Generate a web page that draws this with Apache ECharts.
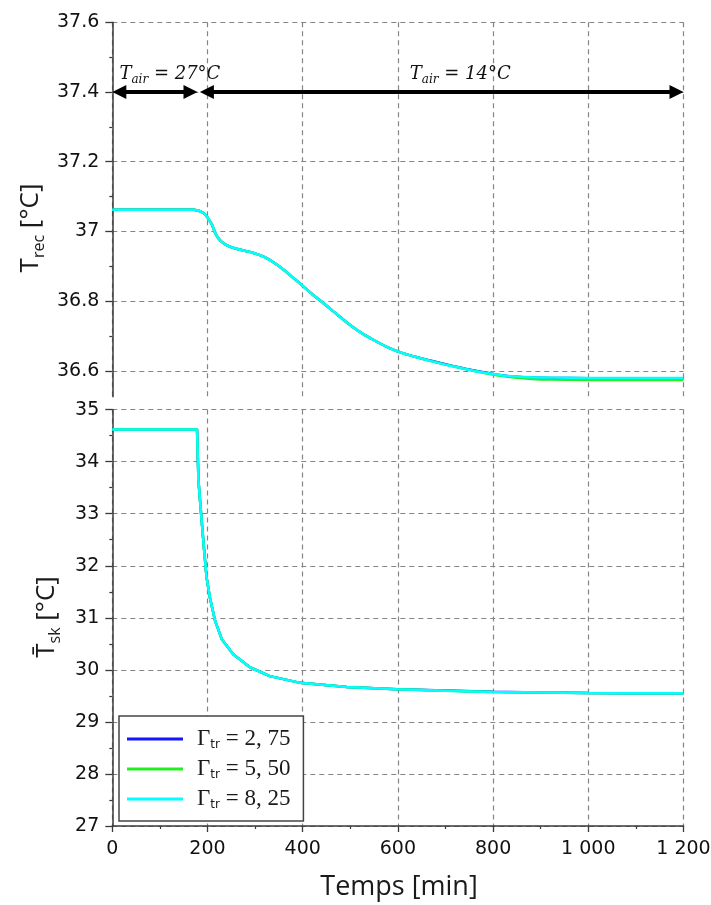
<!DOCTYPE html>
<html><head><meta charset="utf-8">
<script src="https://cdn.jsdelivr.net/npm/echarts@6/dist/echarts.min.js"></script>
<style>html,body{margin:0;padding:0;background:#fff}#c{width:711px;height:905px}</style>
</head><body><div id="c"></div>
<script>
// ---------- data ----------
const seriesNames = ['Γtr = 2,75', 'Γtr = 5,50', 'Γtr = 8,25'];
const legendValues = ['2, 75', '5, 50', '8, 25'];
const seriesColors = ['#1414ff', '#22ee22', '#00ffff'];

const recTime  = [0, 100, 170, 180, 186, 192, 198, 204, 210, 216, 222, 230, 240, 252, 265, 280, 295, 310, 325, 340, 360, 380, 400, 420, 443, 465, 490, 520, 550, 580, 610, 640, 670, 700, 730, 760, 790, 820, 850, 880, 920, 1000, 1100, 1200];
const recBlue  = [37.062, 37.062, 37.062, 37.060, 37.057, 37.052, 37.044, 37.032, 37.018, 36.996, 36.982, 36.970, 36.961, 36.954, 36.949, 36.944, 36.939, 36.932, 36.923, 36.910, 36.890, 36.867, 36.844, 36.820, 36.795, 36.770, 36.742, 36.712, 36.688, 36.667, 36.651, 36.639, 36.629, 36.619, 36.610, 36.601, 36.594, 36.587, 36.583, 36.581, 36.580, 36.579, 36.579, 36.579];
const recGreen = [37.062, 37.062, 37.062, 37.060, 37.057, 37.052, 37.044, 37.032, 37.018, 36.996, 36.982, 36.970, 36.961, 36.954, 36.949, 36.944, 36.939, 36.932, 36.923, 36.910, 36.890, 36.867, 36.844, 36.820, 36.795, 36.770, 36.742, 36.712, 36.688, 36.667, 36.651, 36.639, 36.628, 36.618, 36.609, 36.600, 36.592, 36.585, 36.580, 36.577, 36.575, 36.574, 36.574, 36.574];
const recCyan  = [37.062, 37.062, 37.062, 37.060, 37.057, 37.052, 37.044, 37.032, 37.018, 36.996, 36.982, 36.970, 36.961, 36.954, 36.949, 36.944, 36.939, 36.932, 36.923, 36.910, 36.890, 36.867, 36.844, 36.820, 36.795, 36.770, 36.742, 36.712, 36.688, 36.667, 36.651, 36.639, 36.628, 36.618, 36.609, 36.600, 36.593, 36.587, 36.584, 36.582, 36.581, 36.580, 36.580, 36.580];

const skTime  = [0, 100, 178, 179, 181, 186, 193, 198, 205, 216, 230, 254, 289, 331, 395, 493, 598, 700, 800, 900, 1000, 1100, 1200];
const skBlue  = [34.62, 34.62, 34.62, 34.30, 33.64, 33.06, 32.29, 31.78, 31.39, 30.94, 30.59, 30.30, 30.05, 29.88, 29.75, 29.67, 29.626, 29.602, 29.577, 29.565, 29.555, 29.55, 29.55];
const skGreen = [34.62, 34.62, 34.62, 34.30, 33.64, 33.06, 32.29, 31.78, 31.39, 30.94, 30.59, 30.30, 30.05, 29.88, 29.75, 29.67, 29.625, 29.60, 29.575, 29.565, 29.555, 29.55, 29.55];
const skCyan  = [34.62, 34.62, 34.62, 34.30, 33.64, 33.06, 32.29, 31.78, 31.39, 30.94, 30.59, 30.30, 30.05, 29.88, 29.75, 29.67, 29.625, 29.60, 29.575, 29.565, 29.555, 29.55, 29.55];

const xTickValues = [0, 200, 400, 600, 800, 1000, 1200];
const xTickLabels = ['0', '200', '400', '600', '800', '1 000', '1 200'];
const recTickValues = [36.6, 36.8, 37, 37.2, 37.4, 37.6];
const recTickLabels = ['36.6', '36.8', '37', '37.2', '37.4', '37.6'];
const recMinorTickValues = [36.7, 36.9, 37.1, 37.3, 37.5];
const skTickValues = [27, 28, 29, 30, 31, 32, 33, 34, 35];
const skTickLabels = ['27', '28', '29', '30', '31', '32', '33', '34', '35'];

const airPhaseStart = [0, 184];
const airPhaseEnd = [179, 1200];
const airPhaseTemp = ['27', '14'];
const airArrowLevel = 37.4;

// ---------- layout / style ----------
const G0 = {left: 112.3, width: 571.2, top: 22.3, height: 374.4};
const G1 = {left: 112.3, width: 571.2, top: 409.6, height: 416.4};
const recMin = 36.526, recMax = 37.6;
const axisColor = '#3a3a3a';
const gridLine = {show: true, lineStyle: {color: '#858585', width: 1.2, type: [5, 4]}};
const tickFont = {fontFamily: 'DejaVu Sans', fontSize: 19, color: '#111'};

function lookup(vals, labels) {
  return v => { for (let i = 0; i < vals.length; i++) if (Math.abs(vals[i] - v) < 1e-6) return labels[i]; return ''; };
}
const pairs = (xs, ys) => xs.map((x, i) => [x, ys[i]]);

const chart = echarts.init(document.getElementById('c'), null, {renderer: 'canvas'});

const arrowInset = 7 * 1200 / G0.width; // keep arrow tips on the phase bounds

const series = [];
const recSets = [recBlue, recGreen, recCyan];
const skSets = [skBlue, skGreen, skCyan];
for (let i = 0; i < 3; i++) {
  series.push({
    name: seriesNames[i], type: 'line', xAxisIndex: 0, yAxisIndex: 0,
    data: pairs(recTime, recSets[i]), symbol: 'none', showSymbol: false,
    smooth: 0.2,
    lineStyle: {color: seriesColors[i], width: 2.5}, itemStyle: {color: seriesColors[i]},
    z: 3 + i, silent: true,
    markLine: i === 2 ? {
      silent: true, animation: false,
      symbol: ['triangle', 'triangle'], symbolSize: 14,
      lineStyle: {color: '#000', width: 4, type: 'solid'},
      itemStyle: {color: '#000'},
      label: {show: false}, emphasis: {disabled: true},
      data: airPhaseStart.map((s, k) => [
        {coord: [s + arrowInset, airArrowLevel]},
        {coord: [airPhaseEnd[k] - arrowInset, airArrowLevel]}
      ])
    } : undefined
  });
}
for (let i = 0; i < 3; i++) {
  series.push({
    name: seriesNames[i], type: 'line', xAxisIndex: 1, yAxisIndex: 2,
    data: pairs(skTime, skSets[i]), symbol: 'none', showSymbol: false,
    lineStyle: {color: seriesColors[i], width: 2.5}, itemStyle: {color: seriesColors[i]},
    z: 3 + i, silent: true
  });
}

chart.setOption({
  animation: false,
  backgroundColor: '#fff',
  grid: [
    Object.assign({outerBoundsMode: 'none', containLabel: false}, G0),
    Object.assign({outerBoundsMode: 'none', containLabel: false}, G1)
  ],
  xAxis: [
    {type: 'value', gridIndex: 0, min: 0, max: 1200, interval: 200,
     axisLine: {show: false}, axisTick: {show: false}, axisLabel: {show: false},
     splitLine: gridLine},
    {type: 'value', gridIndex: 1, min: 0, max: 1200, interval: 200,
     axisLine: {show: true, onZero: false, lineStyle: {color: axisColor, width: 1.5}},
     axisTick: {show: true, inside: false, length: 6, lineStyle: {color: axisColor, width: 1.3}},
     minorTick: {show: true, splitNumber: 2, length: 3, lineStyle: {color: axisColor, width: 1.2}},
     axisLabel: Object.assign({margin: 14, formatter: lookup(xTickValues, xTickLabels)}, tickFont),
     splitLine: gridLine}
  ],
  yAxis: [
    {type: 'value', gridIndex: 0, min: recMin, max: recMax,
     axisLine: {show: true, onZero: false, lineStyle: {color: axisColor, width: 1.5}},
     axisTick: {show: true, length: 7, customValues: recTickValues, lineStyle: {color: axisColor, width: 1.3}},
     axisLabel: Object.assign({margin: 13, customValues: recTickValues, formatter: lookup(recTickValues, recTickLabels)}, tickFont),
     splitLine: gridLine},
    {type: 'value', gridIndex: 0, min: recMin, max: recMax, position: 'left',
     axisLine: {show: false}, axisLabel: {show: false}, splitLine: {show: false},
     axisTick: {show: true, length: 3, customValues: recMinorTickValues, lineStyle: {color: axisColor, width: 1.2}}},
    {type: 'value', gridIndex: 1, min: 27, max: 35, interval: 1,
     axisLine: {show: true, onZero: false, lineStyle: {color: axisColor, width: 1.5}},
     axisTick: {show: true, length: 7, lineStyle: {color: axisColor, width: 1.3}},
     minorTick: {show: true, splitNumber: 2, length: 3, lineStyle: {color: axisColor, width: 1.2}},
     axisLabel: Object.assign({margin: 13, formatter: lookup(skTickValues, skTickLabels)}, tickFont),
     splitLine: gridLine}
  ],
  legend: {
    show: true, orient: 'vertical', left: 119, top: 716,
    data: seriesNames, selectedMode: false,
    icon: 'rect', itemWidth: 56, itemHeight: 3, itemGap: 6,
    padding: [11, 13, 10, 8],
    backgroundColor: '#fff', borderColor: '#444', borderWidth: 1.5, borderRadius: 0,
    formatter: name => 'Γ{s|tr} = ' + legendValues[seriesNames.indexOf(name)],
    textStyle: {
      fontFamily: 'Liberation Serif', fontSize: 23, color: '#1a1a1a', lineHeight: 24, padding: [0, 0, 0, 9],
      rich: {s: {fontFamily: 'DejaVu Sans', fontSize: 12, lineHeight: 15, verticalAlign: 'bottom', color: '#1a1a1a'}}
    }
  },
  series: series
});

// ---------- titles and annotations ----------
const titleFont = {fontFamily: 'Open Sans', fontSize: 26, fill: '#1a1a1a'};
const graphics = [
  {type: 'text', x: 31, y: 228, rotation: Math.PI / 2, silent: true,
   style: Object.assign({text: 'T{s|rec} [°C]', align: 'center', verticalAlign: 'middle', lineHeight: 32,
     rich: {s: {fontFamily: 'Open Sans', fontSize: 16, lineHeight: 18, verticalAlign: 'bottom', fill: '#1a1a1a'}}}, titleFont)},
  {type: 'text', x: 47, y: 617, rotation: Math.PI / 2, silent: true,
   style: Object.assign({text: 'T\u0304{s|sk} [°C]', align: 'center', verticalAlign: 'middle', lineHeight: 32,
     rich: {s: {fontFamily: 'Open Sans', fontSize: 16, lineHeight: 18, verticalAlign: 'bottom', fill: '#1a1a1a'}}}, titleFont)},
  {type: 'text', x: 399, y: 887, silent: true,
   style: {text: 'Temps [min]', fontFamily: 'Open Sans', fontSize: 27, fill: '#1a1a1a', align: 'center', verticalAlign: 'middle'}}
];
const annotX = [15, 625];
for (let k = 0; k < 2; k++) {
  const p = chart.convertToPixel({xAxisIndex: 0, yAxisIndex: 0}, [annotX[k], airArrowLevel + 0.05]);
  graphics.push({type: 'text', x: p[0], y: p[1], silent: true,
    style: {text: 'T{s|air} = ' + airPhaseTemp[k] + '°C', fontFamily: 'DejaVu Serif', fontStyle: 'italic', fontSize: 18,
      fill: '#111', align: 'left', verticalAlign: 'middle', lineHeight: 22,
      rich: {s: {fontFamily: 'DejaVu Serif', fontStyle: 'italic', fontSize: 12, lineHeight: 14, verticalAlign: 'bottom', fill: '#111'}}}});
}
chart.setOption({graphic: graphics});
</script>
</body></html>
